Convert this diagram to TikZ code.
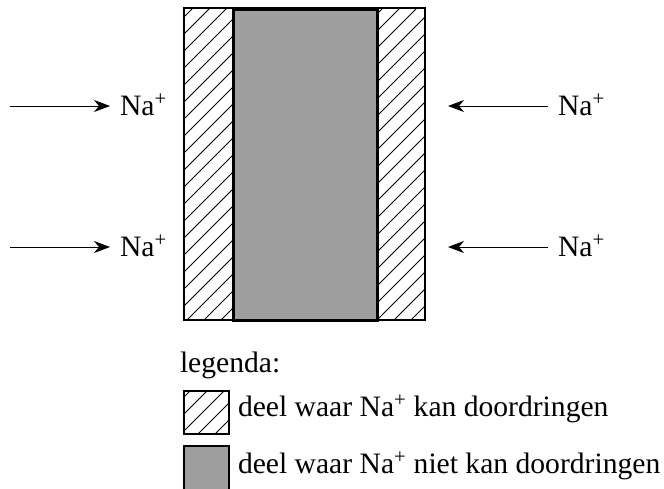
\documentclass[tikz,border=0pt]{standalone}
\usepackage{fontspec}
\setmainfont{Liberation Serif}
\usetikzlibrary{arrows.meta}
\definecolor{fillgray}{gray}{0.62}
\tikzset{
  lbl/.style={inner sep=0pt, outer xsep=10pt, anchor=base west, font=\fontsize{29.6}{34}\selectfont},
  ion/.style={line width=1pt, -{Stealth[length=16pt,width=12pt,inset=5pt]}},
  hatchline/.style={line width=0.9pt},
  frame/.style={line width=1.4pt},
  thick frame/.style={line width=3pt}
}
\begin{document}
\begin{tikzpicture}[x=1pt,y=-1pt]
\useasboundingbox (0,0) rectangle (664,488);
% hatched strips
\begin{scope}
  \clip (184,8) rectangle (233,320);
  \foreach \c in {150,167,...,620} {\draw[hatchline] (\c-400,400) -- (\c+10,-10);}
\end{scope}
\begin{scope}
  \clip (377,8) rectangle (425,320);
  \foreach \c in {340,357,...,820} {\draw[hatchline] (\c-400,400) -- (\c+10,-10);}
\end{scope}
\draw[frame] (184,8) rectangle (425,320);
\draw[thick frame, fill=fillgray] (233,9) rectangle (377,320);
% labels and arrows
\node[lbl] (na1) at (110,115) {Na\textsuperscript{+}};
\node[lbl] (na2) at (110,256) {Na\textsuperscript{+}};
\node[lbl] (na3) at (548,115) {Na\textsuperscript{+}};
\node[lbl] (na4) at (548,256) {Na\textsuperscript{+}};
\coordinate (s1) at (10,106);
\coordinate (s2) at (10,247);
\coordinate (t3) at (448,106);
\coordinate (t4) at (448,247);
\draw[ion] (s1) -- (s1 -| na1.west);
\draw[ion] (s2) -- (s2 -| na2.west);
\draw[ion] (t3 -| na3.west) -- (t3);
\draw[ion] (t4 -| na4.west) -- (t4);
% legend
\node[lbl, outer xsep=0pt] (leg) at (180,372) {legenda:};
\begin{scope}
  \clip (184,391) rectangle (229,434);
  \foreach \c in {564,581,...,690} {\draw[hatchline] (\c-450,450) -- (\c-380,380);}
\end{scope}
\draw[frame] (184,391) rectangle (229,434);
\draw[frame, fill=fillgray] (184,446) rectangle (229,490);
\node[lbl, outer xsep=0pt] (l1) at (238,416) {deel waar Na\textsuperscript{+} kan doordringen};
\node[lbl, outer xsep=0pt] (l2) at (238,473) {deel waar Na\textsuperscript{+} niet kan doordringen};
\end{tikzpicture}
\end{document}
